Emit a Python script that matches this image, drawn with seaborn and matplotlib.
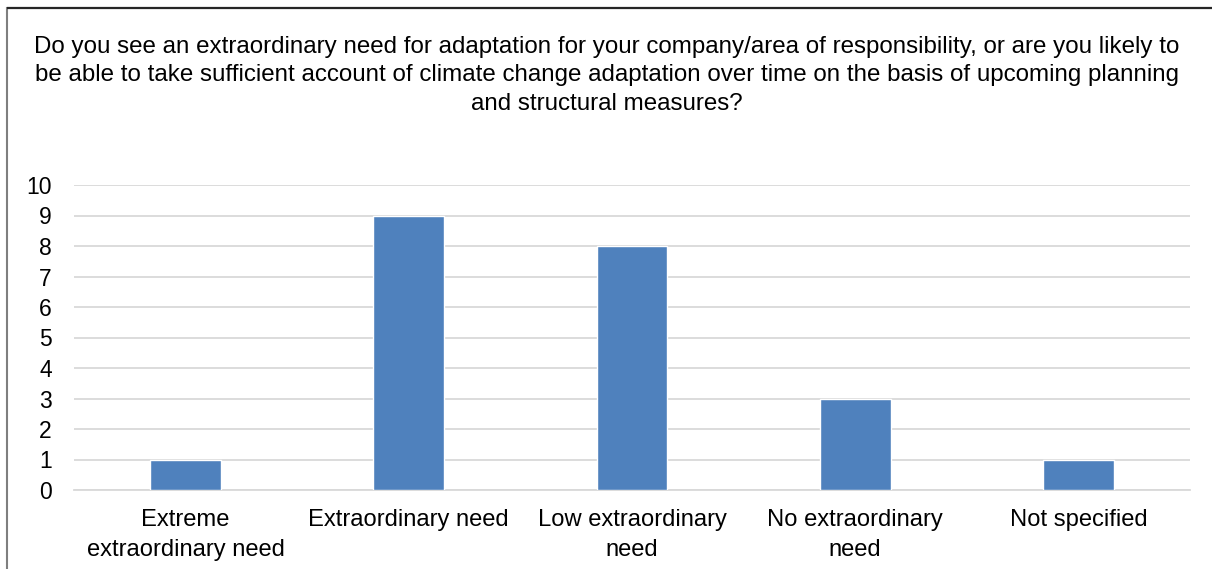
import matplotlib
matplotlib.use("Agg")
import matplotlib.pyplot as plt
import seaborn as sns
import pandas as pd
from matplotlib.patches import Rectangle

categories = [
    "Extreme\nextraordinary need",
    "Extraordinary need",
    "Low extraordinary\nneed",
    "No extraordinary\nneed",
    "Not specified",
]
counts = [1, 9, 8, 3, 1]
y_ticks = list(range(0, 11))
title = ("Do you see an extraordinary need for adaptation for your company/area of responsibility, or are you likely to\n"
         "be able to take sufficient account of climate change adaptation over time on the basis of upcoming planning\n"
         "and structural measures?")

sns.set_theme(style="white")
plt.rcParams["font.family"] = ["Liberation Sans", "DejaVu Sans"]

df = pd.DataFrame({"category": categories, "count": counts})

fig = plt.figure(figsize=(12.12, 5.69), dpi=100)
ax = fig.add_axes([74 / 1212, 1 - 490 / 569, (1190 - 74) / 1212, (490 - 185) / 569])

sns.barplot(data=df, x="category", y="count", color="#4F81BD", saturation=1,
            width=0.318, ax=ax, zorder=3)

ax.set_ylim(0, 10)
ax.set_yticks(y_ticks)
ax.set_xlim(-0.5, len(categories) - 0.5)
ax.grid(axis="y", color="#D9D9D9", linewidth=1.3, zorder=0)
ax.set_axisbelow(True)
for side in ["top", "right", "left"]:
    ax.spines[side].set_visible(False)
ax.spines["bottom"].set_color("#D9D9D9")
ax.spines["bottom"].set_linewidth(1.3)
ax.set_xlabel("")
ax.set_ylabel("")
ax.tick_params(axis="y", length=0, pad=16, labelsize=16.5, labelcolor="#000000")
ax.tick_params(axis="x", length=0, pad=14, labelsize=17.1, labelcolor="#000000")
for lbl in ax.get_xticklabels():
    lbl.set_linespacing(1.42)

fig.text(607 / 1212, 1 - 36 / 569, title, ha="center", va="top", fontsize=17.4,
         color="#000000", linespacing=1.38)

# chart frame
fig.patches.append(Rectangle((7 / 1212, -0.2), 1.2, 1.2 - 7.5 / 569 + 0.0,
                             transform=fig.transFigure, fill=False,
                             edgecolor="#7F7F7F", linewidth=1.5))
fig.patches.append(Rectangle((7 / 1212, 1 - 7.5 / 569), 1.0, 0,
                             transform=fig.transFigure, fill=False,
                             edgecolor="#262626", linewidth=1.5))

fig.savefig("out.png", dpi=100)
